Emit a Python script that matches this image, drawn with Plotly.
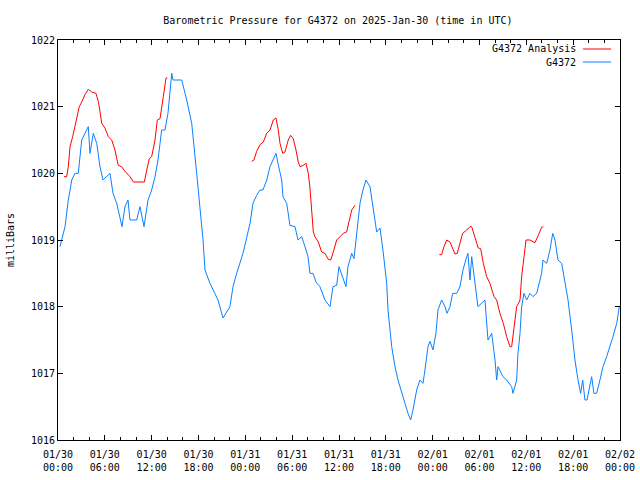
import pandas as pd
import plotly.graph_objects as go

# Hours since 2025-01-30 00:00 UTC and pressure (mb)
obs_hours = [0.26, 0.9, 1.32, 1.76, 2.18, 2.6, 2.82, 3.04, 3.88, 4.1, 4.52, 4.96, 5.38, 5.76, 6.66,
             7.05, 7.52, 7.94, 8.2, 8.58, 8.97, 9.22, 10.08, 10.5, 11.02, 11.53, 12.0, 12.43, 12.81,
             13.28, 13.71, 14.09, 14.57, 14.73, 15.85, 16.49, 17.13, 17.77, 18.58, 18.83, 19.47,
             20.5, 21.14, 22.03, 22.42, 22.89, 23.7, 24.6, 24.98, 25.45, 25.88, 26.26, 26.74, 27.16,
             27.54, 27.93, 28.18, 28.66, 28.82, 29.3, 29.72, 30.36, 30.75, 31.22, 31.64, 32.03,
             32.28, 32.67, 33.05, 33.56, 34.2, 34.85, 35.23, 35.7, 36.0, 36.47, 36.89, 37.15, 37.63,
             37.92, 38.27, 38.69, 39.07, 39.46, 39.97, 40.35, 40.83, 41.25, 41.63, 42.11, 42.28,
             42.75, 43.17, 43.56, 44.03, 44.45, 44.84, 45.18, 45.48, 45.95, 46.37, 46.76, 47.01,
             47.4, 47.66, 48.04, 48.42, 48.68, 49.15, 49.58, 49.83, 50.22, 50.56, 51.08, 51.5,
             51.88, 52.36, 52.52, 52.78, 53.0, 53.16, 53.64, 53.8, 54.7, 54.92, 55.09, 55.56,
             55.99, 56.2, 56.37, 57.0, 57.48, 58.12, 58.29, 58.76, 58.93, 59.19, 59.4, 59.7,
             60.04, 60.47, 60.85, 61.32, 61.75, 61.96, 62.13, 62.61, 63.03, 63.38, 63.67, 64.05,
             64.53, 64.95, 65.34, 65.81, 66.23, 66.62, 66.96, 67.22, 67.51, 67.77, 68.15, 68.37,
             68.66, 69.01, 69.43, 69.82, 70.29, 70.72, 71.1, 71.58, 71.91]
obs_mb = [1018.9, 1019.2, 1019.6, 1019.9, 1020.0, 1020.0, 1020.25, 1020.5, 1020.7, 1020.3, 1020.6,
          1020.45, 1020.1, 1019.9, 1020.0, 1019.7, 1019.55, 1019.3, 1019.2, 1019.5, 1019.6, 1019.3,
          1019.3, 1019.5, 1019.2, 1019.6, 1019.75, 1019.95, 1020.2, 1020.65, 1020.65, 1020.9,
          1021.5, 1021.4, 1021.4, 1021.1, 1020.75, 1020.0, 1019.0, 1018.55, 1018.35, 1018.1,
          1017.83, 1018.0, 1018.3, 1018.5, 1018.8, 1019.25, 1019.55, 1019.67, 1019.75, 1019.75,
          1019.9, 1020.1, 1020.2, 1020.3, 1020.15, 1019.9, 1019.65, 1019.55, 1019.22, 1019.2,
          1019.0, 1019.05, 1018.9, 1018.75, 1018.5, 1018.5, 1018.37, 1018.3, 1018.1, 1018.0,
          1018.3, 1018.32, 1018.6, 1018.45, 1018.3, 1018.6, 1018.8, 1018.72, 1019.1, 1019.55,
          1019.75, 1019.9, 1019.8, 1019.5, 1019.12, 1019.18, 1018.85, 1018.35, 1017.95, 1017.4,
          1017.1, 1016.9, 1016.7, 1016.55, 1016.4, 1016.3, 1016.45, 1016.75, 1016.9, 1016.85,
          1017.05, 1017.4, 1017.48, 1017.35, 1017.6, 1017.95, 1018.1, 1018.0, 1017.9, 1018.0,
          1018.2, 1018.2, 1018.3, 1018.55, 1018.75, 1018.8, 1018.4, 1018.75, 1018.6, 1018.1,
          1018.0, 1018.1, 1017.7, 1017.5, 1017.6, 1017.2, 1016.9, 1017.1, 1016.95, 1016.9,
          1016.8, 1016.7, 1016.9, 1017.3, 1017.6, 1018.0, 1018.2, 1018.1, 1018.2, 1018.15,
          1018.2, 1018.4, 1018.5, 1018.7, 1018.65, 1018.85, 1019.1, 1019.0, 1018.7, 1018.65,
          1018.35, 1018.1, 1017.65, 1017.2, 1016.9, 1016.7, 1016.9, 1016.6, 1016.6, 1016.8,
          1016.95, 1016.7, 1016.7, 1016.9, 1017.1, 1017.25, 1017.4, 1017.55, 1017.75, 1018.0]

ana_hours = [0.77, 1.11, 1.32, 1.54, 1.88, 2.18, 2.4, 2.73, 3.16, 3.46, 3.88, 4.32, 4.87, 5.16,
             5.38, 5.6, 6.02, 6.44, 6.88, 7.3, 7.72, 8.16, 8.58, 9.22, 9.65, 11.06, 11.37, 11.7,
             12.0, 12.43, 12.72, 13.07, 13.49, 13.84, 14.0, None,
             24.81, 25.11, 25.45, 25.88, 26.3, 26.74, 27.16, 27.58, 27.93, 28.22, 28.44, 28.79,
             29.08, 29.5, 29.81, 30.14, 30.49, 30.78, 31.0, 31.42, 31.77, 32.07, 32.28, 32.5,
             32.71, 32.92, 33.35, 33.78, 34.2, 34.63, 34.94, 35.27, 35.7, 36.13, 36.55, 36.98,
             37.32, 37.63, 38.05, None,
             48.85, 49.15, 49.45, 49.8, 50.22, 50.56, 50.86, 51.15, 51.5, 51.84, 52.36, 52.78,
             53.0, 53.2, 53.55, 53.84, 54.15, 54.49, 54.92, 55.34, 55.86, 56.2, 56.62, 57.05,
             57.48, 57.9, 58.12, 58.42, 58.76, 58.97, 59.19, 59.4, 59.7, 59.96, 60.47, 61.11,
             61.53, 61.96, 62.17]
ana_mb = [1019.95, 1019.95, 1020.1, 1020.4, 1020.55, 1020.7, 1020.85, 1021.0, 1021.1, 1021.18,
          1021.26, 1021.22, 1021.2, 1021.08, 1020.93, 1020.75, 1020.68, 1020.55, 1020.5, 1020.35,
          1020.12, 1020.1, 1020.03, 1019.95, 1019.87, 1019.87, 1020.05, 1020.22, 1020.25, 1020.5,
          1020.8, 1020.82, 1021.15, 1021.43, 1021.43, None,
          1020.18, 1020.2, 1020.33, 1020.43, 1020.47, 1020.6, 1020.65, 1020.8, 1020.83, 1020.65,
          1020.45, 1020.3, 1020.32, 1020.5, 1020.57, 1020.52, 1020.35, 1020.17, 1020.1, 1020.12,
          1020.15, 1020.0, 1019.78, 1019.45, 1019.12, 1019.05, 1018.97, 1018.82, 1018.8, 1018.71,
          1018.7, 1018.82, 1019.0, 1019.05, 1019.1, 1019.12, 1019.27, 1019.45, 1019.52, None,
          1018.78, 1018.78, 1018.9, 1019.0, 1018.97, 1018.88, 1018.79, 1018.8, 1018.97, 1019.1,
          1019.15, 1019.2, 1019.2, 1019.12, 1019.0, 1018.88, 1018.87, 1018.65, 1018.45, 1018.35,
          1018.15, 1018.1, 1017.9, 1017.75, 1017.55, 1017.4, 1017.4, 1017.7, 1018.0, 1018.04,
          1018.1, 1018.45, 1018.8, 1019.0, 1019.0, 1018.96, 1019.07, 1019.19, 1019.2]

start = pd.Timestamp("2025-01-30 00:00")
end = pd.Timestamp("2025-02-02 00:00")


def to_time(hours):
    return [None if h is None else start + pd.Timedelta(hours=h) for h in hours]


RED = "#ff0000"
BLUE = "#0a80ff"
FONT = "DejaVu Sans Mono"

fig = go.Figure()
fig.add_trace(go.Scatter(x=to_time(ana_hours), y=ana_mb, mode="lines", name="G4372 Analysis",
                         line=dict(color=RED, width=1), connectgaps=False))
fig.add_trace(go.Scatter(x=to_time(obs_hours), y=obs_mb, mode="lines", name="G4372",
                         line=dict(color=BLUE, width=1)))

fig.update_layout(
    width=640, height=480,
    margin=dict(l=58, r=20, t=40, b=40, autoexpand=False),
    paper_bgcolor="white", plot_bgcolor="white",
    showlegend=False,
    font=dict(family=FONT, size=10, color="black"),
    title=dict(text="Barometric Pressure for G4372 on 2025-Jan-30 (time in UTC)",
               x=0.528, xanchor="center", y=0.958, yanchor="middle",
               font=dict(family=FONT, size=10, color="black")),
)
fig.update_xaxes(
    range=[start, end], type="date", automargin=False,
    tick0=start, dtick=6 * 3600 * 1000, tickformat="%m/%d<br>%H:%M",
    ticks="inside", ticklen=5, tickcolor="black", tickwidth=1, ticklabelstandoff=5,
    minor=dict(dtick=2 * 3600 * 1000, ticks="inside", ticklen=3, tickcolor="black"),
    showline=True, linecolor="black", linewidth=1, mirror="ticks",
    showgrid=False, zeroline=False,
    tickfont=dict(family=FONT, size=10),
)
fig.update_yaxes(
    range=[1016, 1022], dtick=1, tickformat="d", automargin=False,
    ticks="inside", ticklen=5, tickcolor="black", tickwidth=1,
    showline=True, linecolor="black", linewidth=1, mirror="ticks",
    showgrid=False, zeroline=False,
    title=dict(text="milliBars", font=dict(family=FONT, size=10), standoff=14),
    tickfont=dict(family=FONT, size=10),
)

# gnuplot-style legend: right-aligned text with line sample to its right
legend_items = [("G4372 Analysis", RED), ("G4372", BLUE)]
for i, (label, color) in enumerate(legend_items):
    ypos = 1 - (9 + 13 * i) / 400
    fig.add_annotation(text=label, xref="paper", yref="paper", x=0.925, y=ypos,
                       xanchor="right", yanchor="middle", showarrow=False,
                       font=dict(family=FONT, size=10, color="black"))
    fig.add_shape(type="line", xref="paper", yref="paper", x0=0.934, x1=0.984,
                  y0=ypos, y1=ypos, line=dict(color=color, width=1))

fig.write_html("out.html", config={"displayModeBar": False},
               post_script="document.body.style.margin='0';")
